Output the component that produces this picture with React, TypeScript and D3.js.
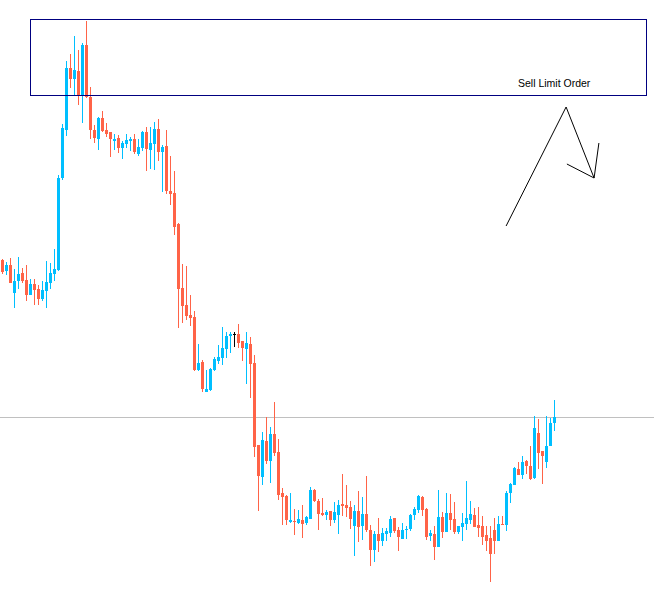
import React from "react";
import * as d3 from "d3";

// OHLC per bar, oldest first
const opens = [
  1.3740, 1.3729, 1.3735, 1.3707, 1.3719, 1.3727, 1.3720, 1.3705, 1.3716, 1.3711,
  1.3701, 1.3709, 1.3717, 1.3726, 1.3730, 1.3822, 1.3870, 1.3932, 1.3921, 1.3929,
  1.3905, 1.3955, 1.3903, 1.3870, 1.3861, 1.3882, 1.3870, 1.3868, 1.3859, 1.3862,
  1.3852, 1.3856, 1.3859, 1.3861, 1.3846, 1.3852, 1.3868, 1.3850, 1.3856, 1.3871,
  1.3848, 1.3854, 1.3809, 1.3807, 1.3776, 1.3712, 1.3695, 1.3685, 1.3683, 1.3630,
  1.3638, 1.3608, 1.3610, 1.3630, 1.3639, 1.3642, 1.3651, 1.3664, 1.3666, 1.3666,
  1.3659, 1.3651, 1.3656, 1.3637, 1.3555, 1.3523, 1.3559, 1.3539, 1.3566, 1.3548,
  1.3507, 1.3504, 1.3478, 1.3479, 1.3477, 1.3480, 1.3477, 1.3481, 1.3510, 1.3499,
  1.3487, 1.3485, 1.3489, 1.3480, 1.3485, 1.3496, 1.3495, 1.3493, 1.3474, 1.3489,
  1.3474, 1.3486, 1.3470, 1.3450, 1.3466, 1.3459, 1.3466, 1.3467, 1.3482, 1.3470,
  1.3461, 1.3470, 1.3471, 1.3485, 1.3490, 1.3503, 1.3491, 1.3464, 1.3466, 1.3453,
  1.3483, 1.3468, 1.3487, 1.3481, 1.3468, 1.3473, 1.3476, 1.3480, 1.3485, 1.3475,
  1.3474, 1.3465, 1.3462, 1.3470, 1.3459, 1.3476, 1.3475, 1.3507, 1.3515, 1.3531,
  1.3525, 1.3539, 1.3534, 1.3522, 1.3567, 1.3549, 1.3538, 1.3554, 1.3577,
];
const highs = [
  1.3741, 1.3738, 1.3742, 1.3731, 1.3743, 1.3732, 1.3735, 1.3721, 1.3721, 1.3715,
  1.3719, 1.3739, 1.3737, 1.3751, 1.3825, 1.3876, 1.3939, 1.3946, 1.3964, 1.3950,
  1.3957, 1.3979, 1.3913, 1.3875, 1.3883, 1.3889, 1.3877, 1.3868, 1.3866, 1.3865,
  1.3859, 1.3866, 1.3863, 1.3866, 1.3861, 1.3869, 1.3873, 1.3873, 1.3878, 1.3881,
  1.3855, 1.3870, 1.3844, 1.3829, 1.3777, 1.3736, 1.3734, 1.3705, 1.3689, 1.3656,
  1.3640, 1.3630, 1.3632, 1.3643, 1.3655, 1.3673, 1.3668, 1.3668, 1.3668, 1.3676,
  1.3659, 1.3668, 1.3663, 1.3645, 1.3555, 1.3568, 1.3583, 1.3573, 1.3598, 1.3561,
  1.3512, 1.3505, 1.3507, 1.3491, 1.3490, 1.3495, 1.3484, 1.3513, 1.3511, 1.3501,
  1.3502, 1.3490, 1.3489, 1.3498, 1.3500, 1.3526, 1.3515, 1.3499, 1.3495, 1.3509,
  1.3503, 1.3524, 1.3475, 1.3469, 1.3482, 1.3472, 1.3472, 1.3484, 1.3482, 1.3473,
  1.3477, 1.3474, 1.3486, 1.3493, 1.3505, 1.3504, 1.3492, 1.3470, 1.3474, 1.3510,
  1.3488, 1.3507, 1.3506, 1.3498, 1.3474, 1.3487, 1.3519, 1.3499, 1.3492, 1.3493,
  1.3484, 1.3474, 1.3474, 1.3482, 1.3484, 1.3484, 1.3509, 1.3517, 1.3533, 1.3538,
  1.3544, 1.3540, 1.3554, 1.3584, 1.3581, 1.3549, 1.3584, 1.3582, 1.3600,
];
const lows = [
  1.3726, 1.3725, 1.3717, 1.3692, 1.3711, 1.3717, 1.3699, 1.3705, 1.3695, 1.3695,
  1.3699, 1.3692, 1.3711, 1.3719, 1.3729, 1.3820, 1.3864, 1.3912, 1.3904, 1.3895,
  1.3877, 1.3902, 1.3861, 1.3857, 1.3850, 1.3868, 1.3863, 1.3843, 1.3850, 1.3847,
  1.3841, 1.3852, 1.3849, 1.3846, 1.3844, 1.3849, 1.3829, 1.3831, 1.3830, 1.3839,
  1.3808, 1.3806, 1.3795, 1.3765, 1.3672, 1.3677, 1.3680, 1.3674, 1.3629, 1.3629,
  1.3608, 1.3608, 1.3609, 1.3629, 1.3636, 1.3635, 1.3642, 1.3647, 1.3653, 1.3652,
  1.3639, 1.3616, 1.3602, 1.3543, 1.3489, 1.3515, 1.3536, 1.3517, 1.3544, 1.3500,
  1.3475, 1.3475, 1.3477, 1.3465, 1.3476, 1.3462, 1.3475, 1.3481, 1.3498, 1.3470,
  1.3484, 1.3480, 1.3474, 1.3477, 1.3466, 1.3484, 1.3483, 1.3471, 1.3444, 1.3458,
  1.3460, 1.3468, 1.3434, 1.3438, 1.3448, 1.3454, 1.3459, 1.3463, 1.3467, 1.3449,
  1.3461, 1.3461, 1.3469, 1.3480, 1.3487, 1.3484, 1.3460, 1.3459, 1.3440, 1.3453,
  1.3462, 1.3468, 1.3470, 1.3466, 1.3466, 1.3459, 1.3470, 1.3476, 1.3473, 1.3463,
  1.3455, 1.3449, 1.3418, 1.3446, 1.3459, 1.3475, 1.3469, 1.3497, 1.3515, 1.3525,
  1.3521, 1.3526, 1.3520, 1.3521, 1.3531, 1.3516, 1.3532, 1.3554, 1.3569,
];
const closes = [
  1.3728, 1.3735, 1.3717, 1.3719, 1.3726, 1.3719, 1.3705, 1.3716, 1.3710, 1.3701,
  1.3710, 1.3718, 1.3727, 1.3731, 1.3822, 1.3872, 1.3932, 1.3921, 1.3930, 1.3905,
  1.3955, 1.3903, 1.3870, 1.3862, 1.3882, 1.3869, 1.3866, 1.3861, 1.3861, 1.3852,
  1.3857, 1.3860, 1.3861, 1.3848, 1.3853, 1.3868, 1.3851, 1.3857, 1.3871, 1.3848,
  1.3853, 1.3809, 1.3806, 1.3773, 1.3711, 1.3694, 1.3684, 1.3682, 1.3630, 1.3637,
  1.3611, 1.3611, 1.3631, 1.3641, 1.3643, 1.3652, 1.3664, 1.3666, 1.3666, 1.3657,
  1.3652, 1.3657, 1.3636, 1.3553, 1.3524, 1.3560, 1.3539, 1.3566, 1.3547, 1.3505,
  1.3503, 1.3480, 1.3480, 1.3478, 1.3481, 1.3476, 1.3483, 1.3510, 1.3499, 1.3486,
  1.3485, 1.3488, 1.3480, 1.3488, 1.3495, 1.3494, 1.3492, 1.3481, 1.3489, 1.3473,
  1.3486, 1.3470, 1.3450, 1.3466, 1.3459, 1.3467, 1.3469, 1.3481, 1.3469, 1.3463,
  1.3470, 1.3471, 1.3485, 1.3491, 1.3504, 1.3490, 1.3463, 1.3467, 1.3453, 1.3483,
  1.3468, 1.3487, 1.3480, 1.3468, 1.3474, 1.3477, 1.3482, 1.3486, 1.3473, 1.3472,
  1.3463, 1.3459, 1.3446, 1.3459, 1.3476, 1.3475, 1.3507, 1.3516, 1.3532, 1.3525,
  1.3538, 1.3534, 1.3521, 1.3572, 1.3547, 1.3544, 1.3554, 1.3577, 1.3583,
];

const bidPrice = 1.3583;

// sell limit zone, drawn from a bar index out into the future bars
const zoneBars = [7, 161];
const zonePrices = [1.3981, 1.3905];
const zoneLabel = "Sell Limit Order";

// hand-drawn arrow: [bar index, price]
const arrowPath: [number, number][] = [
  [125.9, 1.3774],
  [140.9, 1.3893],
  [147.9, 1.3822],
];
const arrowHead: [number, number][] = [
  [141.1, 1.3836],
  [147.9, 1.3822],
  [149.1, 1.3857],
];

const width = 654;
const height = 593;

const bull = "#00bfff";
const bear = "#ff6347";

export default function App() {
  const x = d3.scaleLinear().domain([0, 1]).range([2.5, 6.5]);
  const y = d3.scaleLinear().domain([1.4, 1.3407]).range([0, height]);
  const py = (p: number) => Math.round(y(p));

  const line = d3
    .line<[number, number]>()
    .x((d) => x(d[0]))
    .y((d) => y(d[1]));

  return (
    <svg
      width={width}
      height={height}
      style={{ position: "absolute", left: 0, top: 0, background: "#fff" }}
    >
      <rect width={width} height={height} fill="#fff" />

      {/* bid line */}
      <line
        x1={0}
        x2={width}
        y1={py(bidPrice) + 0.5}
        y2={py(bidPrice) + 0.5}
        stroke="#c0c0c0"
        strokeWidth={1}
      />

      {/* candles */}
      <g shapeRendering="crispEdges">
        {opens.map((o, i) => {
          const c = closes[i];
          const cx = x(i);
          const color = c > o ? bull : c < o ? bear : "#000";
          const top = py(Math.max(o, c));
          const bot = py(Math.min(o, c));
          return (
            <g key={i}>
              <rect
                x={cx - 0.5}
                y={py(highs[i])}
                width={1}
                height={Math.max(1, py(lows[i]) - py(highs[i]))}
                fill={color}
              />
              <rect
                x={cx - 1.5}
                y={top}
                width={3}
                height={Math.max(1, bot - top)}
                fill={color}
              />
            </g>
          );
        })}
      </g>

      {/* sell limit zone */}
      <rect
        x={x(zoneBars[0])}
        y={py(zonePrices[0]) + 0.5}
        width={x(zoneBars[1]) - x(zoneBars[0])}
        height={py(zonePrices[1]) - py(zonePrices[0])}
        fill="none"
        stroke="#000080"
        strokeWidth={1}
      />
      <text
        x={518}
        y={87}
        fontFamily="'Liberation Sans', Arial, sans-serif"
        fontSize={10.5}
        fill="#000"
      >
        {zoneLabel}
      </text>

      {/* arrow */}
      <path d={line(arrowPath) ?? ""} fill="none" stroke="#000" strokeWidth={1} />
      <path d={line(arrowHead) ?? ""} fill="none" stroke="#000" strokeWidth={1} />
    </svg>
  );
}
